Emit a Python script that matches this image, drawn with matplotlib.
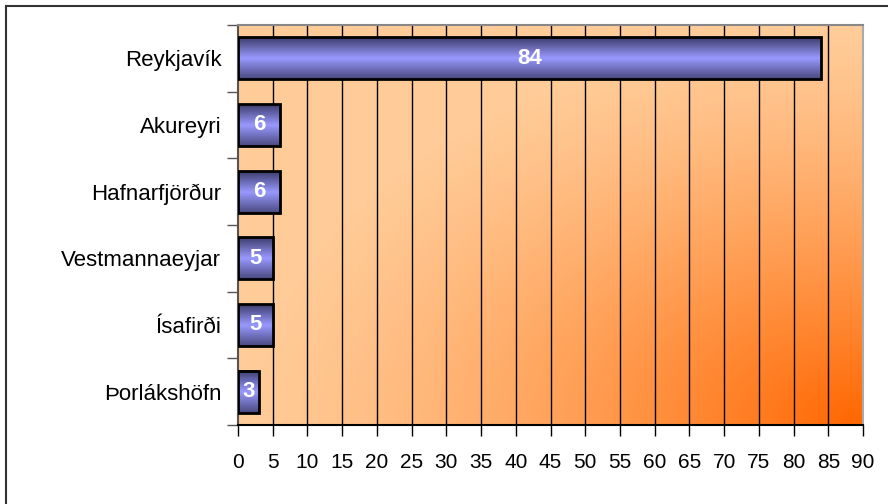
import numpy as np
import matplotlib.pyplot as plt
from matplotlib.colors import LinearSegmentedColormap
from matplotlib.lines import Line2D

plt.rcParams['font.family'] = ['Liberation Sans', 'DejaVu Sans']

towns = ["Reykjavík", "Akureyri", "Hafnarfjörður", "Vestmannaeyjar", "Ísafirði", "Þorlákshöfn"]
counts = [84, 6, 6, 5, 5, 3]
xticks = list(range(0, 95, 5))

fig = plt.figure(figsize=(8.88, 5.04), dpi=100)
ax = fig.add_axes([238 / 888, 79 / 504, 625 / 888, 400 / 504])

# background: gradient from the bottom-right corner, light peach to orange
u, v = np.meshgrid(np.linspace(1, 0, 300), np.linspace(0, 1, 200))
t = np.clip(1 - np.sqrt(u ** 2 + v ** 2), 0, 1) ** 1.3
light = np.array([255, 204, 153]) / 255
dark = np.array([255, 102, 0]) / 255
bg = light[None, None, :] * (1 - t[..., None]) + dark[None, None, :] * t[..., None]
ax.imshow(bg, extent=[0, 1, 0, 1], transform=ax.transAxes, origin='lower',
          aspect='auto', zorder=0, interpolation='bilinear')

for x in xticks[1:-1]:
    ax.axvline(x, color='black', lw=1.0, zorder=1)

bar_cmap = LinearSegmentedColormap.from_list(
    "barblue", [(0.0, "#3c3c6c"), (0.5, "#9999ff"), (1.0, "#4a4a80")])
grad = np.linspace(0, 1, 64).reshape(-1, 1)
h = 0.63
for i, val in enumerate(counts):
    ax.imshow(grad, cmap=bar_cmap, extent=[0, val, i + h / 2, i - h / 2],
              origin='upper', aspect='auto', zorder=2, interpolation='bilinear')
    ax.barh(i, val, height=h, facecolor='none', edgecolor='black', lw=2, zorder=3)
    ax.text(val / 2, i, str(val), color='white', fontsize=16, fontweight='bold',
            ha='center', va='center', zorder=4)

ax.set_xlim(0, 90)
ax.set_ylim(len(towns) - 0.5, -0.5)
ax.set_xticks(xticks)
ax.set_yticks(np.arange(len(towns)))
ax.set_yticklabels(towns)
ax.set_yticks(np.arange(len(towns) + 1) - 0.5, minor=True)
ax.tick_params(axis='y', which='major', length=0, pad=12, labelsize=16)
ax.tick_params(axis='y', which='minor', length=8, width=1, color='#555555')
ax.tick_params(axis='x', length=8, width=1, color='black', labelsize=15, pad=12)

ax.spines['left'].set_color('#555555')
ax.spines['bottom'].set_color('black')
ax.spines['top'].set_color('#888888')
ax.spines['right'].set_color('#aaaaaa')
for s in ax.spines.values():
    s.set_linewidth(1.5)

# figure frame
fig.add_artist(Line2D([6 / 888, 1], [1 - 6 / 504, 1 - 6 / 504], color='#333333', lw=1.5))
fig.add_artist(Line2D([6 / 888, 6 / 888], [0, 1 - 6 / 504], color='#333333', lw=1.5))

fig.savefig("out.png", dpi=100)
